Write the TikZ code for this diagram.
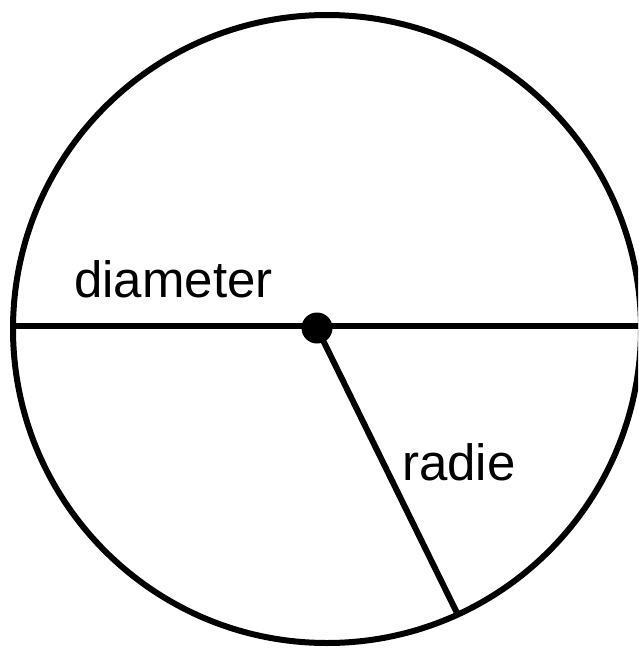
\documentclass[tikz,border=0pt]{standalone}
\usepackage{fontspec}
\setmainfont{Liberation Sans}
\usetikzlibrary{positioning}

\tikzset{
	stroke/.style={line width=6pt, line cap=butt},
	label text/.style={anchor=base west, inner sep=0pt, font=\fontsize{51}{61}\selectfont},
	hub/.style={circle, fill=black, minimum size=31pt, inner sep=0pt}
}

\begin{document}
\begin{tikzpicture}[x=1pt, y=-1pt, line join=round]

		\useasboundingbox (0,0) rectangle (638,648);
		\clip (0,0) rectangle (638,648);

		% ================= circle and its diameter =================
		\draw[stroke] (327,329) circle (314);
		\coordinate (west) at (13,326);
		\coordinate (east) at (645,326);
		\draw[stroke] (west) -- (east);

		% ================= centre and radius =================
		\node[hub] (centre) at (317,328) {};
		\coordinate (rim) at (458,615);
		\draw[stroke] (centre.center) -- (rim);

		% ================= labels =================
		\node[label text] (diam) at (74,297) {diameter};
		\node[label text] (rad) at (402,480) {radie};

	\end{tikzpicture}
\end{document}
